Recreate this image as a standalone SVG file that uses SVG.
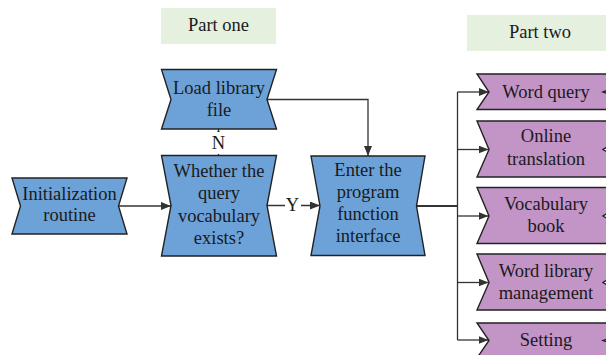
<svg xmlns="http://www.w3.org/2000/svg" width="606" height="355" viewBox="0 0 606 355">
  <style>
    .lbl { fill: #e5f0df; }
    .blue { fill: #6ca2d8; stroke: #222; stroke-width: 1.4; stroke-linejoin: miter; }
    .purple { fill: #c394c6; stroke: #222; stroke-width: 1.4; stroke-linejoin: miter; }
    text { font-family: "Liberation Serif", "DejaVu Serif", serif; font-size: 18.5px; fill: #1a1a1a; text-anchor: middle; }
    .wire { fill: none; stroke: #333; stroke-width: 1.3; }
    .arrow { marker-end: url(#head); }
  </style>
  <defs>
    <marker id="head" viewBox="0 0 10 8" refX="10" refY="4" markerWidth="10" markerHeight="8" markerUnits="userSpaceOnUse" orient="auto">
      <path d="M0,0 L10,4 L0,8 Z" fill="#333"/>
    </marker>
  </defs>

  <rect width="606" height="355" fill="#ffffff"/>

  <!-- section headings -->
  <g id="part-one">
    <rect class="lbl" x="161" y="8" width="115" height="36"/>
    <text x="218.5" y="31">Part one</text>
  </g>
  <g id="part-two">
    <rect class="lbl" x="467" y="15" width="150" height="36"/>
    <text x="540" y="38">Part two</text>
  </g>

  <!-- connectors -->
  <g id="connectors">
    <path class="wire arrow" d="M118,206 L171,206"/>
    <path class="wire arrow" d="M267,99.5 L368,99.5 L368,156"/>
    <path class="wire arrow" d="M218.5,155 L218.5,129"/>
    <rect x="210" y="132" width="17" height="22" fill="#ffffff"/>
    <text x="218.5" y="149">N</text>
    <path class="wire arrow" d="M267,205.5 L320,205.5"/>
    <rect x="285" y="196" width="16" height="18" fill="#ffffff"/>
    <text x="292.5" y="211">Y</text>
    <path class="wire" style="stroke-width:1.8" d="M417,206 L457.5,206"/>
    <path class="wire" d="M457.5,92 L457.5,340"/>
    <path class="wire arrow" d="M457.5,92 L489,92"/>
    <path class="wire arrow" d="M457.5,149.5 L488.5,149.5"/>
    <path class="wire arrow" d="M457.5,216 L488.5,216"/>
    <path class="wire arrow" d="M457.5,282.5 L488.5,282.5"/>
    <path class="wire arrow" d="M457.5,340 L488.5,340"/>
  </g>

  <!-- part one nodes -->
  <g id="init">
    <polygon class="blue" points="12,178 127,178 118.5,206 127,234 12,234 20.5,206"/>
    <text x="69.5" y="199.5">Initialization</text>
    <text x="69.5" y="220.5">routine</text>
  </g>
  <g id="load-library">
    <polygon class="blue" points="161.5,69.5 276.5,69.5 267,99.5 276.5,129 161.5,129 171,99.5"/>
    <text x="219" y="93.5">Load library</text>
    <text x="219" y="115.5">file</text>
  </g>
  <g id="query-exists">
    <polygon class="blue" points="161.5,155.5 276.5,155.5 267,205.5 276.5,256 161.5,256 171,205.5"/>
    <text x="219" y="176.5">Whether the</text>
    <text x="219" y="199">query</text>
    <text x="219" y="221.5">vocabulary</text>
    <text x="219" y="244">exists?</text>
  </g>
  <g id="program-interface">
    <polygon class="blue" points="311,156 425,156 416.5,206 425,255.5 311,255.5 320,206"/>
    <text x="368" y="176">Enter the</text>
    <text x="368" y="198">program</text>
    <text x="368" y="220">function</text>
    <text x="368" y="242">interface</text>
  </g>

  <!-- part two nodes -->
  <g id="word-query">
    <polygon class="purple" points="477,74 650,74 603,92 650,109.5 477,109.5 489,92"/>
    <text x="546" y="97.5">Word query</text>
  </g>
  <g id="online-translation">
    <polygon class="purple" points="477,121 650,121 603,149.5 650,177 477,177 489,149.5"/>
    <text x="546" y="142">Online</text>
    <text x="546" y="165">translation</text>
  </g>
  <g id="vocabulary-book">
    <polygon class="purple" points="477,187.5 650,187.5 603,216 650,243.5 477,243.5 489,216"/>
    <text x="546" y="210">Vocabulary</text>
    <text x="546" y="231.5">book</text>
  </g>
  <g id="library-management">
    <polygon class="purple" points="477,254 650,254 603,282.5 650,310 477,310 489,282.5"/>
    <text x="546" y="277">Word library</text>
    <text x="546" y="298.5">management</text>
  </g>
  <g id="setting">
    <polygon class="purple" points="477,323 650,323 603,340.5 650,358 477,358 489,340.5"/>
    <text x="546" y="346">Setting</text>
  </g>
</svg>
